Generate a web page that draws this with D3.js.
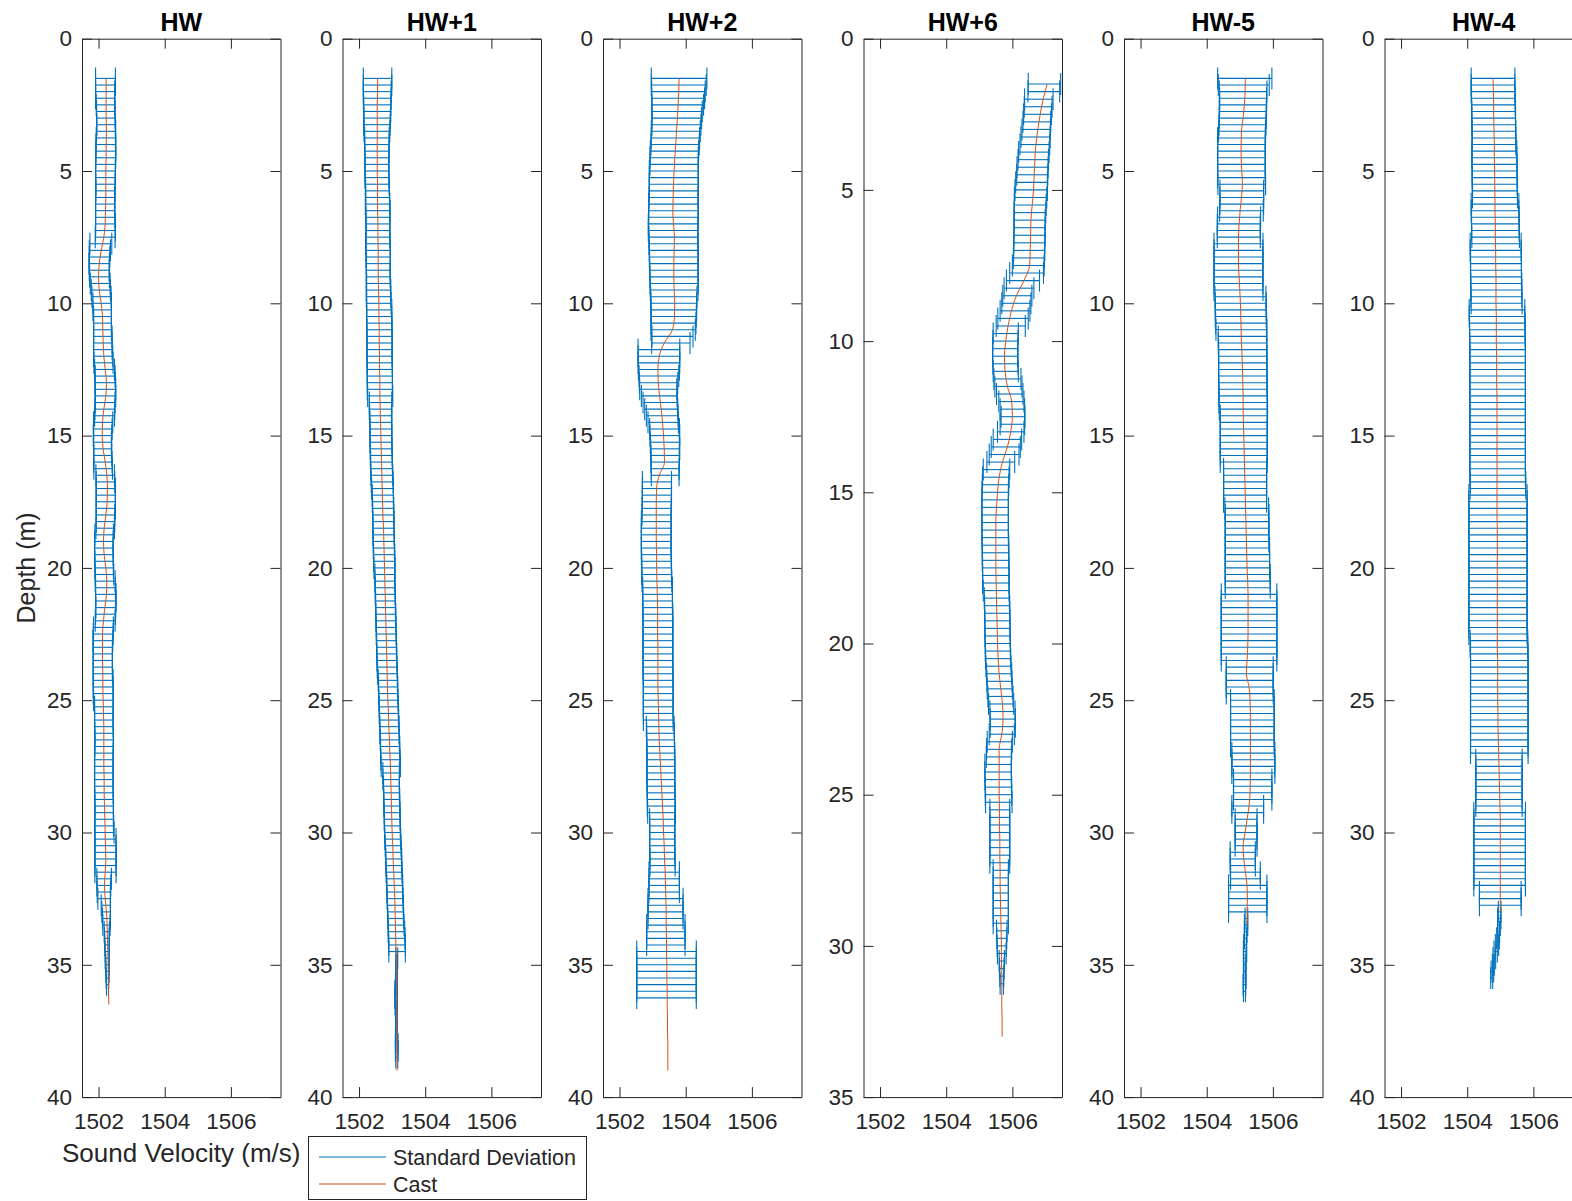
<!DOCTYPE html>
<html><head><meta charset="utf-8">
<script src="https://cdn.jsdelivr.net/npm/d3@7"></script>
<style>body{margin:0;background:#fff}svg{display:block}</style>
</head><body><svg id="c" width="1572" height="1201"></svg>
<script>
// ---------------- DATA ----------------
const panelNames = ["HW","HW+1","HW+2","HW+6","HW-5","HW-4"];
const depthMax = [40,40,40,35,40,40];
const xDomain = [1501.5, 1507.5];
const xTicks = [1502,1504,1506];
const xTickLabels = ["1502","1504","1506"];
const yTicks40 = [0,5,10,15,20,25,30,35,40];
const yTicks35 = [0,5,10,15,20,25,30,35];
const barStart = 1.5, barStep = 0.25;   // depth (m) of first std-dev bar, spacing
const castStart = 1.5, castStep = 0.5;  // depth (m) of first cast sample, spacing
const xLabel = "Sound Velocity (m/s)";
const yLabel = "Depth (m)";
const legendLabels = ["Standard Deviation","Cast"];

// HW
const hwMean = [1502.21,1502.21,1502.20,1502.20,1502.21,1502.22,1502.22,1502.23,1502.23,1502.22,1502.22,1502.22,1502.22,1502.21,1502.21,1502.21,1502.21,1502.21,1502.20,1502.20,1502.20,1502.20,1502.21,1502.21,1502.20,
1502.07,1502.04,1502.03,1502.02,1502.02,1502.03,1502.05,1502.07,1502.09,
1502.11,1502.11,1502.12,1502.12,1502.12,1502.13,1502.13,1502.13,1502.14,1502.15,
1502.18,1502.20,1502.20,1502.21,1502.21,1502.20,1502.19,1502.18,
1502.14,1502.13,1502.12,1502.12,1502.12,1502.13,1502.13,1502.14,
1502.20,1502.21,1502.22,1502.22,1502.22,1502.22,1502.21,1502.21,1502.20,
1502.17,1502.16,1502.16,1502.16,1502.17,1502.17,1502.18,
1502.20,1502.21,1502.22,1502.22,1502.22,1502.21,1502.20,
1502.15,1502.14,1502.13,1502.13,1502.13,1502.13,1502.13,1502.13,1502.14,1502.14,1502.14,1502.15,
1502.16,1502.16,1502.16,1502.16,1502.17,1502.17,1502.17,1502.16,1502.16,1502.16,1502.16,1502.16,1502.16,1502.16,1502.17,1502.17,1502.17,1502.17,1502.17,1502.18,
1502.21,1502.21,1502.21,1502.21,1502.21,1502.21,
1502.17,1502.16,1502.16,1502.17,
1502.22,1502.23,1502.24,1502.24,
1502.25,1502.25,1502.26,1502.26,1502.26,1502.27,1502.27,1502.27,1502.27];
const hwSd = [0.30,0.30,0.29,0.29,0.28,0.28,0.28,0.28,0.29,0.29,0.30,0.30,0.30,0.30,0.30,0.30,0.29,0.29,0.29,0.29,0.29,0.29,0.30,0.30,0.30,
0.33,0.32,0.31,0.31,0.30,0.30,0.30,0.29,0.29,
0.28,0.28,0.27,0.27,0.27,0.28,0.28,0.28,0.29,0.29,
0.30,0.30,0.31,0.31,0.31,0.30,0.30,0.30,
0.29,0.28,0.28,0.27,0.27,0.27,0.28,0.28,
0.28,0.28,0.29,0.29,0.29,0.29,0.28,0.28,0.28,
0.28,0.28,0.28,0.28,0.28,0.28,0.28,
0.30,0.30,0.31,0.31,0.30,0.30,0.30,
0.30,0.30,0.30,0.29,0.29,0.29,0.29,0.29,0.30,0.30,0.30,0.30,
0.28,0.28,0.28,0.28,0.28,0.28,0.28,0.28,0.28,0.28,0.28,0.28,0.28,0.28,0.28,0.28,0.28,0.28,0.29,0.29,
0.32,0.32,0.32,0.32,0.32,0.32,
0.22,0.21,0.20,0.19,
0.14,0.13,0.12,0.11,
0.08,0.07,0.07,0.06,0.06,0.05,0.05,0.04,0.03];
const hwCast = [1502.23,1502.23,1502.23,1502.23,1502.24,1502.23,1502.23,1502.22,1502.22,1502.22,
1502.21,1502.20,1502.16,1502.08,1502.02,1502.00,1502.02,1502.08,1502.12,1502.13,
1502.14,1502.16,1502.20,1502.24,1502.22,1502.16,1502.12,1502.11,1502.14,1502.20,
1502.25,1502.27,1502.26,1502.22,1502.17,1502.15,1502.17,1502.22,1502.25,1502.24,
1502.19,1502.15,1502.12,1502.12,1502.12,1502.13,1502.13,1502.14,1502.15,1502.16,
1502.16,1502.16,1502.16,1502.17,1502.17,1502.18,1502.19,1502.20,1502.21,1502.22,
1502.20,1502.18,1502.20,1502.24,1502.26,1502.27,1502.28,1502.29,1502.30,1502.30,
1502.31];

// HW+1
const hw1Mean = [1502.56,1502.56,1502.55,1502.55,1502.55,1502.55,1502.55,1502.54,1502.54,
1502.54,1502.54,1502.54,1502.54,1502.54,1502.54,1502.54,1502.55,
1502.56,1502.56,1502.56,1502.57,1502.57,1502.57,1502.57,1502.57,1502.57,1502.58,1502.58,1502.58,1502.58,1502.58,1502.59,1502.59,1502.59,1502.60,
1502.61,1502.61,1502.61,1502.62,1502.62,1502.62,1502.62,1502.62,1502.62,1502.63,1502.63,1502.63,1502.63,1502.64,
1502.65,1502.65,1502.65,1502.66,1502.66,1502.66,1502.66,1502.67,1502.67,1502.68,1502.68,1502.69,1502.70,1502.71,
1502.72,1502.72,1502.73,1502.73,1502.74,1502.74,1502.74,1502.75,1502.75,1502.76,1502.76,1502.77,
1502.78,1502.78,1502.79,1502.79,1502.80,1502.80,1502.81,1502.81,1502.82,1502.82,1502.83,1502.83,1502.84,1502.84,1502.85,1502.86,
1502.87,1502.88,1502.88,1502.89,1502.90,1502.90,1502.91,1502.92,1502.92,1502.93,1502.94,1502.94,1502.95,1502.96,
1502.97,1502.97,1502.98,1502.98,1502.99,1502.99,1503.00,1503.00,1503.01,1503.01,1503.02,1503.03,
1503.04,1503.05,1503.05,1503.06,1503.07,1503.08,1503.08,1503.09,1503.10,1503.10,1503.11,1503.12,
1503.13,1503.14,1503.15,1503.15,
1503.14,1503.14,1503.13,1503.13,1503.13,1503.12,1503.12,1503.12,1503.12,1503.13,1503.13,1503.13,1503.13,1503.14,1503.14,1503.14];
const hw1Sd = [0.43,0.43,0.42,0.42,0.41,0.41,0.40,0.40,0.39,
0.37,0.37,0.37,0.36,0.36,0.36,0.36,0.36,
0.36,0.36,0.37,0.37,0.36,0.36,0.36,0.36,0.37,0.37,0.37,0.36,0.36,0.36,0.36,0.37,0.37,0.37,
0.38,0.38,0.38,0.38,0.38,0.38,0.38,0.38,0.38,0.38,0.38,0.38,0.38,0.38,
0.34,0.34,0.33,0.33,0.33,0.33,0.33,0.33,0.33,0.33,0.33,0.33,0.33,0.33,
0.32,0.32,0.32,0.32,0.32,0.32,0.32,0.32,0.32,0.32,0.32,0.32,
0.30,0.30,0.30,0.30,0.30,0.30,0.30,0.30,0.30,0.30,0.30,0.30,0.30,0.30,0.30,0.30,
0.29,0.29,0.29,0.29,0.29,0.29,0.29,0.29,0.29,0.29,0.29,0.29,0.29,0.29,
0.25,0.25,0.24,0.24,0.24,0.24,0.24,0.24,0.24,0.24,0.24,0.24,
0.24,0.24,0.24,0.24,0.24,0.24,0.24,0.24,0.24,0.24,0.24,0.24,
0.25,0.25,0.25,0.25,
0.03,0.02,0.02,0.02,0.03,0.04,0.04,0.03,0.02,0.02,0.02,0.02,0.03,0.04,0.04,0.03];
const hw1Cast = [1502.56,1502.56,1502.55,1502.55,1502.55,1502.55,1502.55,1502.55,1502.56,1502.56,
1502.56,1502.57,1502.57,1502.58,1502.58,1502.58,1502.59,1502.60,1502.60,1502.61,
1502.61,1502.62,1502.62,1502.63,1502.63,1502.64,1502.65,1502.66,1502.67,1502.68,
1502.69,1502.70,1502.71,1502.72,1502.74,1502.75,1502.76,1502.77,1502.78,1502.79,
1502.80,1502.81,1502.82,1502.83,1502.84,1502.85,1502.86,1502.87,1502.89,1502.90,
1502.92,1502.93,1502.95,1502.96,1502.97,1502.98,1502.99,1503.00,1503.02,1503.03,
1503.05,1503.06,1503.08,1503.09,1503.10,1503.11,1503.12,1503.13,1503.13,1503.13,
1503.13,1503.13,1503.14,1503.14,1503.15,1503.15];

// HW+2
const hw2Mean = [1503.80,1503.79,1503.78,1503.77,1503.76,
1503.74,1503.73,1503.72,1503.70,1503.69,1503.68,
1503.66,1503.65,1503.65,1503.64,1503.64,1503.64,1503.64,1503.63,1503.63,1503.63,1503.63,1503.62,1503.62,1503.63,1503.63,1503.64,1503.64,1503.64,1503.64,1503.65,1503.65,1503.65,
1503.64,1503.64,1503.64,1503.64,1503.63,1503.62,
1503.60,1503.55,
1503.19,1503.19,1503.19,1503.19,1503.19,1503.18,
1503.17,1503.20,1503.23,1503.26,1503.29,1503.32,
1503.36,1503.37,1503.37,1503.38,1503.38,1503.38,1503.38,1503.38,
1503.13,1503.13,1503.13,1503.13,1503.12,1503.12,
1503.11,1503.11,1503.11,1503.11,1503.11,1503.11,1503.12,1503.12,1503.12,1503.13,
1503.15,1503.15,1503.15,1503.15,1503.16,1503.16,1503.16,1503.16,1503.16,1503.16,1503.16,1503.16,1503.16,1503.16,1503.17,1503.17,1503.17,1503.17,1503.17,1503.17,1503.17,
1503.23,1503.24,1503.24,1503.24,1503.25,1503.25,1503.25,1503.25,1503.25,1503.25,1503.26,1503.26,1503.26,1503.27,
1503.29,1503.29,1503.29,1503.29,1503.29,1503.29,1503.30,1503.30,
1503.35,1503.35,1503.35,1503.35,
1503.39,1503.39,1503.39,1503.39,
1503.40,1503.40,1503.40,1503.40,
1503.42,1503.42,1503.42,1503.42,1503.42,1503.42,1503.42,1503.42];
const hw2Sd = [0.84,0.83,0.81,0.80,0.78,
0.76,0.75,0.74,0.74,0.73,0.73,
0.73,0.73,0.73,0.74,0.74,0.74,0.74,0.74,0.75,0.75,0.75,0.75,0.75,0.74,0.74,0.74,0.74,0.73,0.73,0.73,0.73,0.72,
0.70,0.69,0.69,0.68,0.68,0.67,
0.62,0.58,
0.63,0.63,0.63,0.62,0.60,0.58,
0.56,0.54,0.52,0.50,0.48,0.46,
0.45,0.45,0.44,0.44,0.43,0.43,0.42,0.42,
0.44,0.44,0.44,0.44,0.44,0.44,
0.45,0.45,0.45,0.45,0.45,0.45,0.45,0.45,0.45,0.45,
0.45,0.45,0.45,0.45,0.45,0.45,0.45,0.45,0.45,0.45,0.45,0.45,0.45,0.45,0.45,0.45,0.45,0.45,0.45,0.45,0.45,
0.42,0.42,0.42,0.42,0.42,0.42,0.42,0.42,0.42,0.42,0.42,0.42,0.42,0.42,
0.38,0.38,0.38,0.38,0.38,0.38,0.38,0.38,
0.46,0.46,0.46,0.46,
0.53,0.53,0.53,0.53,
0.58,0.58,0.58,0.58,
0.90,0.90,0.90,0.90,0.90,0.90,0.90,0.90];
const hw2Cast = [1503.80,1503.79,1503.77,1503.75,1503.72,1503.70,1503.67,1503.65,1503.63,1503.62,
1503.61,1503.63,1503.66,1503.65,1503.64,1503.64,1503.65,1503.67,1503.66,1503.60,
1503.35,1503.20,1503.16,1503.17,1503.21,1503.26,1503.30,1503.33,1503.35,1503.36,
1503.20,1503.12,1503.11,1503.11,1503.11,1503.11,1503.12,1503.12,1503.13,1503.14,
1503.15,1503.15,1503.15,1503.16,1503.16,1503.16,1503.16,1503.17,1503.18,1503.19,
1503.20,1503.22,1503.24,1503.26,1503.28,1503.30,1503.32,1503.33,1503.35,1503.36,
1503.38,1503.39,1503.40,1503.41,1503.41,1503.42,1503.42,1503.43,1503.43,1503.44,
1503.44,1503.45,1503.45,1503.46,1503.46,1503.46];

// HW+6
const hw6Mean = [1506.97,1506.95,
1506.80,1506.78,1506.76,1506.74,1506.72,1506.70,1506.68,
1506.65,1506.63,1506.61,1506.60,1506.58,1506.57,
1506.55,1506.54,1506.53,1506.52,1506.52,1506.52,1506.51,1506.51,1506.50,1506.48,
1506.43,1506.32,
1506.20,1506.15,1506.12,1506.08,
1506.02,1505.95,
1505.80,1505.79,1505.78,1505.78,1505.79,1505.80,
1505.85,1505.88,1505.92,1505.97,
1506.00,1506.02,1506.00,1505.95,
1505.85,1505.80,1505.75,1505.65,
1505.52,1505.50,1505.49,1505.48,1505.48,1505.48,1505.48,1505.48,1505.48,1505.48,1505.49,1505.49,1505.49,1505.50,1505.50,1505.50,1505.51,
1505.53,1505.54,1505.54,1505.55,1505.55,1505.55,1505.56,1505.56,1505.57,1505.58,
1505.60,1505.61,1505.62,1505.64,1505.66,
1505.70,1505.71,1505.71,1505.68,
1505.62,1505.60,1505.59,
1505.57,1505.57,1505.57,1505.58,1505.58,1505.59,
1505.62,1505.62,1505.62,1505.62,1505.62,1505.62,1505.62,1505.62,
1505.65,1505.65,1505.65,1505.65,1505.65,1505.65,1505.65,1505.65,
1505.68,1505.68,1505.68,1505.68,
1505.68,1505.68,1505.68,1505.68];
const hw6Sd = [0.49,0.48,
0.43,0.42,0.42,0.42,0.43,0.44,0.45,
0.46,0.46,0.47,0.47,0.48,0.49,
0.49,0.48,0.48,0.47,0.47,0.47,0.47,0.47,0.47,0.48,
0.51,0.50,
0.45,0.44,0.44,0.45,
0.46,0.44,
0.38,0.38,0.38,0.38,0.38,0.38,
0.41,0.41,0.40,0.38,
0.37,0.36,0.37,0.40,
0.43,0.44,0.45,0.42,
0.40,0.40,0.40,0.40,0.40,0.40,0.40,0.40,0.40,0.40,0.40,0.40,0.40,0.40,0.40,0.40,0.39,
0.38,0.38,0.38,0.38,0.38,0.38,0.38,0.38,0.38,0.38,
0.38,0.38,0.38,0.38,0.38,
0.38,0.38,0.38,0.38,
0.38,0.38,0.38,
0.40,0.40,0.40,0.40,0.40,0.40,
0.30,0.30,0.30,0.30,0.30,0.30,0.30,0.30,
0.23,0.23,0.23,0.23,0.23,0.23,0.23,0.23,
0.16,0.15,0.14,0.13,
0.08,0.07,0.06,0.05];
const hw6Cast = [1507.05,1506.93,1506.84,1506.77,1506.71,1506.68,1506.66,1506.64,1506.60,1506.56,
1506.55,1506.54,1506.52,1506.35,1506.12,1505.97,1505.87,1505.80,1505.76,1505.78,
1505.85,1505.98,1506.00,1505.95,1505.85,1505.70,1505.60,1505.55,1505.52,1505.50,
1505.50,1505.50,1505.50,1505.51,1505.52,1505.53,1505.54,1505.55,1505.57,1505.60,
1505.65,1505.70,1505.72,1505.68,1505.60,1505.60,1505.60,1505.60,1505.61,1505.61,
1505.62,1505.62,1505.63,1505.63,1505.64,1505.65,1505.66,1505.67,1505.67,1505.68,
1505.68,1505.68,1505.69,1505.69];

// HW-5
const hw5Mean = [1505.15,1505.12,
1505.10,1505.10,1505.10,1505.09,1505.09,1505.08,1505.07,
1505.05,1505.05,1505.05,1505.05,1505.05,1505.05,1505.05,1505.06,
1505.06,1505.06,1505.06,1505.05,
1504.98,1504.97,1504.97,1504.97,
1504.96,1504.96,1504.96,1504.96,1504.96,1504.96,1504.96,1504.96,
1505.02,1505.03,1505.03,1505.03,1505.04,1505.05,
1505.08,1505.08,1505.09,1505.09,1505.09,1505.09,1505.09,1505.09,1505.10,1505.10,1505.10,1505.11,
1505.12,1505.12,1505.12,1505.12,1505.12,1505.12,1505.12,1505.12,
1505.16,1505.16,1505.16,1505.16,1505.16,1505.16,
1505.21,1505.22,1505.22,1505.22,1505.22,1505.22,1505.23,1505.23,1505.23,1505.23,1505.24,1505.24,1505.24,
1505.28,1505.28,1505.28,1505.28,1505.28,1505.28,1505.28,1505.28,1505.28,1505.28,1505.28,
1505.30,1505.30,1505.30,1505.30,1505.30,
1505.38,1505.38,1505.38,1505.38,1505.38,1505.38,1505.38,1505.38,
1505.41,1505.41,1505.41,1505.41,
1505.39,1505.39,1505.39,1505.39,
1505.24,1505.24,
1505.19,1505.19,1505.19,1505.19,1505.19,
1505.09,1505.09,1505.09,
1505.17,1505.17,
1505.24,1505.24,1505.24,1505.24,1505.24,
1505.20,1505.19,1505.18,1505.17,1505.16,1505.16,1505.15,1505.15,1505.15,1505.15,1505.14,1505.14];
const hw5Sd = [0.82,0.77,
0.72,0.71,0.71,0.71,0.71,0.71,0.71,
0.72,0.72,0.72,0.72,0.72,0.72,0.72,0.72,
0.66,0.66,0.66,0.66,
0.65,0.65,0.65,0.65,
0.74,0.74,0.74,0.74,0.74,0.74,0.74,0.74,
0.77,0.77,0.77,0.77,0.77,0.77,
0.73,0.73,0.73,0.73,0.73,0.73,0.73,0.73,0.73,0.73,0.73,0.73,
0.71,0.71,0.71,0.71,0.71,0.71,0.71,0.71,
0.65,0.65,0.65,0.65,0.65,0.65,
0.66,0.66,0.66,0.66,0.66,0.66,0.67,0.67,0.67,0.67,0.68,0.68,0.68,
0.84,0.84,0.84,0.84,0.84,0.84,0.84,0.84,0.84,0.84,0.84,
0.71,0.71,0.71,0.71,0.71,
0.66,0.66,0.66,0.66,0.66,0.66,0.66,0.66,
0.65,0.65,0.65,0.65,
0.58,0.58,0.58,0.58,
0.48,0.48,
0.33,0.33,0.33,0.33,0.33,
0.38,0.38,0.38,
0.45,0.45,
0.58,0.58,0.58,0.58,0.58,
0.04,0.05,0.04,0.03,0.04,0.05,0.04,0.03,0.03,0.04,0.04,0.03];
const hw5Cast = [1505.17,1505.16,1505.14,1505.10,1505.05,1505.04,1505.04,1505.06,1505.08,1505.05,
1505.01,1504.98,1504.96,1504.96,1504.96,1504.98,1505.00,1505.02,1505.03,1505.04,
1505.05,1505.07,1505.08,1505.09,1505.10,1505.10,1505.11,1505.12,1505.13,1505.14,
1505.15,1505.16,1505.17,1505.18,1505.19,1505.20,1505.21,1505.22,1505.24,1505.25,
1505.25,1505.25,1505.25,1505.24,1505.22,1505.20,1505.28,1505.31,1505.32,1505.32,
1505.32,1505.32,1505.32,1505.32,1505.31,1505.28,1505.22,1505.16,1505.10,1505.12,
1505.17,1505.22,1505.23,1505.22,1505.22];

// HW-4
const hw4Mean = [1504.78,1504.78,1504.78,1504.79,1504.79,
1504.80,1504.80,1504.80,1504.81,1504.81,1504.81,
1504.82,1504.82,1504.83,1504.83,1504.83,1504.83,1504.84,1504.84,
1504.84,1504.84,1504.85,1504.85,1504.85,1504.86,
1504.86,1504.86,1504.87,1504.87,1504.87,1504.87,1504.88,1504.88,1504.88,1504.89,
1504.90,1504.90,1504.91,1504.91,1504.91,1504.92,1504.92,1504.92,1504.92,1504.92,1504.92,1504.92,1504.92,1504.92,1504.92,1504.92,1504.92,1504.92,1504.92,1504.92,1504.92,1504.92,1504.92,1504.92,1504.92,1504.92,1504.93,1504.93,
1504.93,1504.93,1504.93,1504.93,1504.93,1504.93,1504.93,1504.93,1504.93,1504.93,1504.93,1504.93,1504.93,1504.93,1504.93,1504.93,1504.93,1504.93,1504.93,1504.93,1504.93,1504.93,
1504.96,1504.96,1504.97,1504.97,1504.97,1504.97,1504.97,1504.97,1504.97,1504.97,1504.97,1504.97,1504.97,1504.97,1504.97,1504.97,1504.97,1504.97,
1504.96,1504.96,1504.96,1504.96,1504.96,1504.96,1504.96,1504.96,
1504.98,1504.98,1504.98,1504.98,1504.98,1504.98,1504.98,1504.98,1504.98,1504.98,1504.98,1504.98,
1505.00,1505.00,1505.00,
1504.98,1504.97,1504.96,1504.95,1504.93,1504.90,1504.86,1504.82,1504.79,1504.76,1504.74];
const hw4Sd = [0.66,0.66,0.66,0.66,0.66,
0.66,0.66,0.66,0.66,0.66,0.66,
0.68,0.68,0.68,0.68,0.68,0.68,0.68,0.68,
0.72,0.72,0.72,0.72,0.72,0.72,
0.77,0.77,0.77,0.77,0.77,0.77,0.77,0.77,0.77,0.77,
0.84,0.84,0.84,0.84,0.84,0.84,0.84,0.84,0.84,0.84,0.84,0.84,0.84,0.84,0.84,0.84,0.84,0.84,0.84,0.84,0.84,0.84,0.84,0.84,0.84,0.84,0.84,0.84,
0.88,0.88,0.88,0.88,0.88,0.88,0.88,0.88,0.88,0.88,0.88,0.88,0.88,0.88,0.88,0.88,0.88,0.88,0.88,0.88,0.88,0.88,
0.87,0.87,0.87,0.87,0.87,0.87,0.87,0.87,0.87,0.87,0.87,0.87,0.87,0.87,0.87,0.87,0.87,0.87,
0.70,0.70,0.70,0.70,0.70,0.70,0.70,0.70,
0.78,0.78,0.78,0.78,0.78,0.78,0.78,0.78,0.78,0.78,0.78,0.78,
0.63,0.63,0.63,
0.04,0.05,0.04,0.03,0.04,0.05,0.05,0.04,0.03,0.04,0.03];
const hw4Cast = [1504.78,1504.79,1504.80,1504.80,1504.81,1504.82,1504.82,1504.83,1504.83,1504.84,
1504.84,1504.85,1504.85,1504.86,1504.86,1504.87,1504.87,1504.87,1504.88,1504.88,
1504.88,1504.89,1504.89,1504.89,1504.90,1504.90,1504.90,1504.90,1504.90,1504.90,
1504.90,1504.90,1504.90,1504.90,1504.91,1504.91,1504.91,1504.91,1504.91,1504.91,
1504.91,1504.91,1504.91,1504.91,1504.92,1504.92,1504.92,1504.92,1504.93,1504.93,
1504.94,1504.95,1504.96,1504.97,1504.98,1504.99,1505.00,1505.00,1505.00,1505.00,
1505.00,1505.00,1505.00,1505.00];

const means = [hwMean, hw1Mean, hw2Mean, hw6Mean, hw5Mean, hw4Mean];
const sds   = [hwSd, hw1Sd, hw2Sd, hw6Sd, hw5Sd, hw4Sd];
const casts = [hwCast, hw1Cast, hw2Cast, hw6Cast, hw5Cast, hw4Cast];

// ---------------- LAYOUT / STYLE ----------------
const panelLeft = [82, 342.5, 603, 863.5, 1124, 1384.5];
const pw = 198.5, plotTop = 38.7, ph = 1058.4;
const FONT = "'Liberation Sans', Arial, Helvetica, sans-serif";
const AX = "#262626";
const BLUE = "#0072BD", RED = "#D95319";
const capHalf = 11;

const svg = d3.select("#c");
svg.append("rect").attr("width",1572).attr("height",1201).attr("fill","#fff");

panelNames.forEach((name, k) => {
  const L = panelLeft[k];
  const x = d3.scaleLinear().domain(xDomain).range([L, L + pw]);
  const y = d3.scaleLinear().domain([0, depthMax[k]]).range([plotTop, plotTop + ph]);
  const yt = depthMax[k] === 35 ? yTicks35 : yTicks40;
  const g = svg.append("g");

  const rows = means[k].map((m, i) => ({d: barStart + i * barStep, m: m, s: sds[k][i]}));
  const eb = g.append("g").attr("stroke", BLUE).attr("stroke-width", 1.1).attr("fill", "none");
  eb.selectAll("line.h").data(rows).join("line").attr("class","h")
    .attr("x1", d => x(d.m - d.s)).attr("x2", d => x(d.m + d.s))
    .attr("y1", d => y(d.d)).attr("y2", d => y(d.d));
  eb.selectAll("line.cl").data(rows).join("line").attr("class","cl")
    .attr("x1", d => x(d.m - d.s)).attr("x2", d => x(d.m - d.s))
    .attr("y1", d => y(d.d) - capHalf).attr("y2", d => y(d.d) + capHalf);
  eb.selectAll("line.cr").data(rows).join("line").attr("class","cr")
    .attr("x1", d => x(d.m + d.s)).attr("x2", d => x(d.m + d.s))
    .attr("y1", d => y(d.d) - capHalf).attr("y2", d => y(d.d) + capHalf);

  const castPts = casts[k].map((v, i) => ({d: castStart + i * castStep, v: v}));
  g.append("path").datum(castPts)
    .attr("d", d3.line().x(d => x(d.v)).y(d => y(d.d)).curve(d3.curveMonotoneY))
    .attr("fill", "none").attr("stroke", RED).attr("stroke-width", 1);

  const ax = svg.append("g").attr("font-family", FONT);
  const yl = ax.append("g").attr("transform", `translate(${L},0)`)
    .call(d3.axisLeft(y).tickValues(yt).tickFormat(d3.format("d")).tickSize(-10).tickSizeOuter(0).tickPadding(10));
  const yr = ax.append("g").attr("transform", `translate(${L + pw},0)`)
    .call(d3.axisRight(y).tickValues(yt).tickFormat("").tickSize(-10).tickSizeOuter(0));
  const xt = ax.append("g").attr("transform", `translate(0,${plotTop})`)
    .call(d3.axisTop(x).tickValues(xTicks).tickFormat("").tickSize(-10).tickSizeOuter(0));
  const xb = ax.append("g").attr("transform", `translate(0,${plotTop + ph})`)
    .call(d3.axisBottom(x).tickValues(xTicks).tickFormat((d, i) => xTickLabels[i]).tickSize(-10).tickSizeOuter(0).tickPadding(16));
  [yl, yr, xt, xb].forEach(a => {
    a.selectAll("path.domain").attr("stroke", AX);
    a.selectAll(".tick line").attr("stroke", AX);
    a.selectAll("text").attr("fill", AX).attr("font-size", "22.5px").attr("font-family", FONT);
  });

  svg.append("text").attr("x", L + pw / 2).attr("y", 31).attr("text-anchor", "middle")
    .attr("font-family", FONT).attr("font-weight", "bold").attr("font-size", "25px").attr("fill", "#000")
    .text(name);
});

svg.append("text").attr("x", panelLeft[0] + pw / 2).attr("y", 1162).attr("text-anchor", "middle")
  .attr("font-family", FONT).attr("font-size", "26px").attr("fill", AX).text(xLabel);
svg.append("text").attr("transform", `translate(35,${plotTop + ph / 2}) rotate(-90)`).attr("text-anchor", "middle")
  .attr("font-family", FONT).attr("font-size", "25px").attr("fill", AX).text(yLabel);

const lg = svg.append("g").attr("font-family", FONT);
lg.append("rect").attr("x", 308.5).attr("y", 1136.5).attr("width", 278).attr("height", 63)
  .attr("fill", "#fff").attr("stroke", AX).attr("stroke-width", 1);
[BLUE, RED].forEach((c, i) => {
  const yy = 1157 + i * 27;
  lg.append("line").attr("x1", 319).attr("x2", 386).attr("y1", yy).attr("y2", yy).attr("stroke", c).attr("stroke-width", 1);
  lg.append("text").attr("x", 393).attr("y", yy + 8).attr("font-size", "21.5px").attr("fill", AX).text(legendLabels[i]);
});
</script></body></html>
